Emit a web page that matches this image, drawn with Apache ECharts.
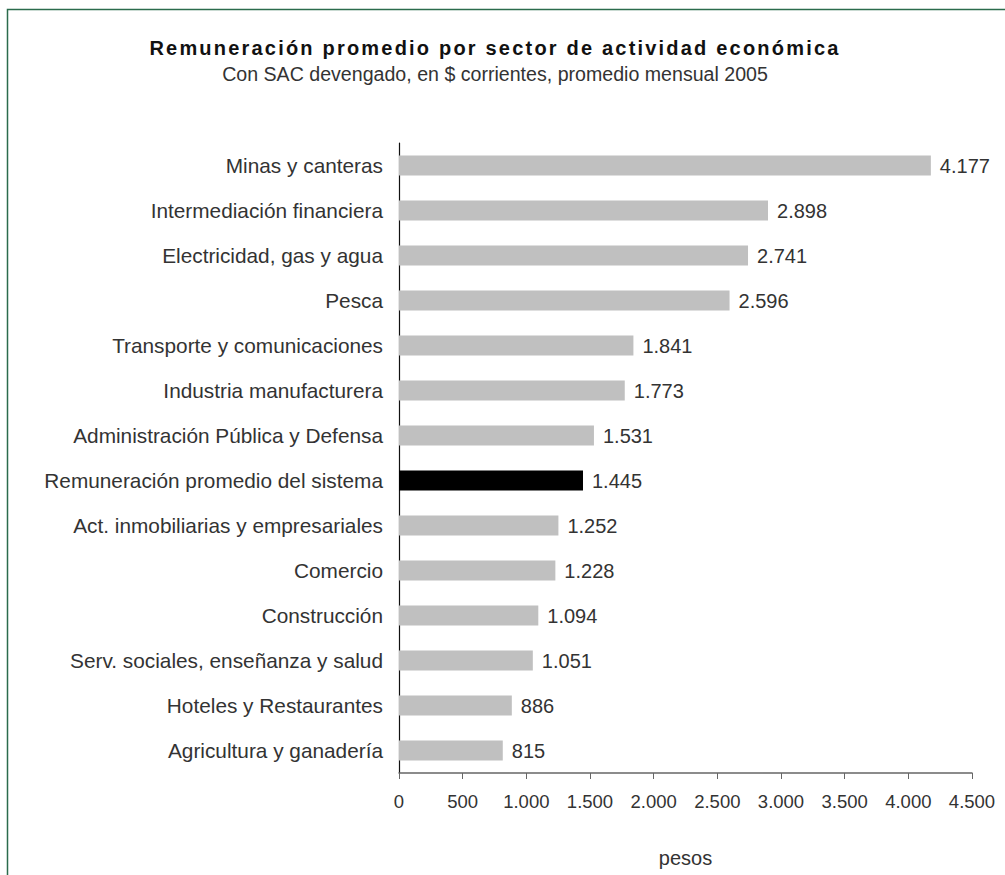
<!DOCTYPE html>
<html>
<head>
<meta charset="utf-8">
<script src="https://cdn.jsdelivr.net/npm/echarts@6/dist/echarts.min.js"></script>
<style>
html,body{margin:0;padding:0;background:#fff;}
#c{width:1005px;height:875px;}
#c svg text[style*="bold"]{letter-spacing:2.2px;}
</style>
</head>
<body>
<div id="c"></div>
<script>
const categories = [
  "Minas y canteras",
  "Intermediación financiera",
  "Electricidad, gas y agua",
  "Pesca",
  "Transporte y comunicaciones",
  "Industria manufacturera",
  "Administración Pública y Defensa",
  "Remuneración promedio del sistema",
  "Act. inmobiliarias y empresariales",
  "Comercio",
  "Construcción",
  "Serv. sociales, enseñanza y salud",
  "Hoteles y Restaurantes",
  "Agricultura y ganadería"
];
const values = [4177, 2898, 2741, 2596, 1841, 1773, 1531, 1445, 1252, 1228, 1094, 1051, 886, 815];
const highlightCategory = "Remuneración promedio del sistema";
const xTicks = [0, 500, 1000, 1500, 2000, 2500, 3000, 3500, 4000, 4500];

function fmt(v){ return String(v).replace(/\B(?=(\d{3})+(?!\d))/g, "."); }

const FONT = "'Liberation Sans', Arial, Helvetica, sans-serif";
const TXT = '#333';
const chart = echarts.init(document.getElementById('c'), null, {renderer: 'svg'});
chart.setOption({
  backgroundColor: '#fff',
  animation: false,
  title: {
    text: 'Remuneración promedio por sector de actividad económica',
    subtext: 'Con SAC devengado, en $ corrientes, promedio mensual 2005',
    left: 490,
    top: 33,
    textAlign: 'center',
    itemGap: 6,
    textStyle: {fontFamily: FONT, fontSize: 20, fontWeight: 'bold', color: '#111'},
    subtextStyle: {fontFamily: FONT, fontSize: 19.6, color: TXT}
  },
  graphic: [{
    type: 'rect',
    shape: {x: 7.5, y: 9.5, width: 1100, height: 1000},
    style: {fill: 'none', stroke: '#2b6b4c', lineWidth: 1.5},
    silent: true
  }],
  grid: {left: 399, right: 33, top: 143, bottom: 102, containLabel: false},
  xAxis: {
    type: 'value',
    min: xTicks[0],
    max: xTicks[xTicks.length - 1],
    interval: 500,
    name: 'pesos',
    nameLocation: 'middle',
    nameGap: 75,
    nameTextStyle: {fontFamily: FONT, fontSize: 20, color: TXT},
    axisLine: {show: true, lineStyle: {color: '#666', width: 1.5}},
    axisTick: {show: true, length: 6, lineStyle: {color: '#666'}},
    axisLabel: {fontFamily: FONT, fontSize: 18.5, color: TXT, margin: 19, formatter: fmt},
    splitLine: {show: false}
  },
  yAxis: {
    type: 'category',
    data: categories,
    inverse: true,
    axisLine: {show: true, lineStyle: {color: '#111', width: 1.2}},
    axisTick: {show: false},
    axisLabel: {fontFamily: FONT, fontSize: 20.8, color: TXT, margin: 16}
  },
  series: [{
    type: 'bar',
    barWidth: 20,
    data: values.map((v, i) => ({
      value: v,
      itemStyle: {color: categories[i] === highlightCategory ? '#000' : '#c0c0c0'}
    })),
    label: {
      show: true,
      position: 'right',
      distance: 9,
      fontFamily: FONT,
      fontSize: 20,
      color: TXT,
      formatter: p => fmt(p.value)
    }
  }]
});
</script>
</body>
</html>
